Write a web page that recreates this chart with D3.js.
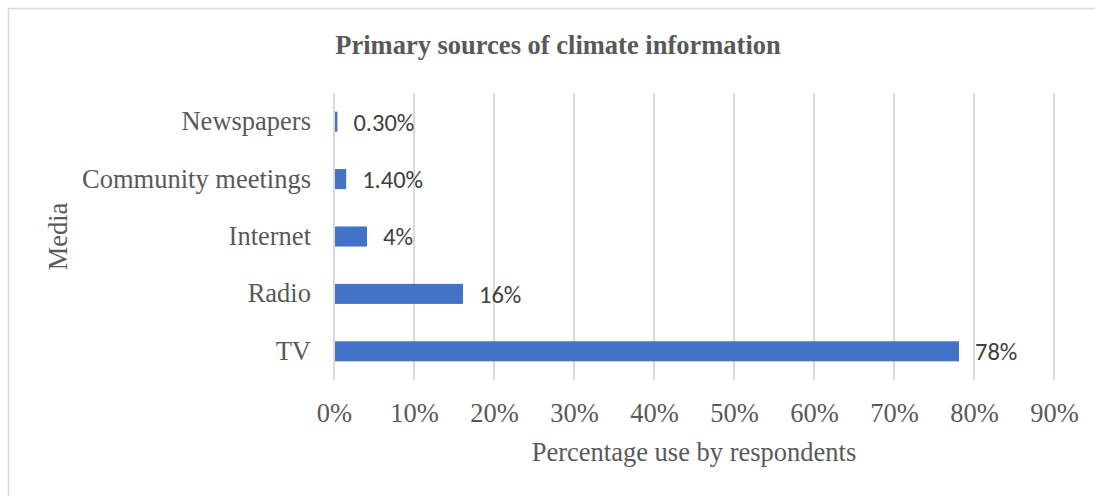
<!DOCTYPE html>
<html>
<head>
<meta charset="utf-8">
<script src="https://cdn.jsdelivr.net/npm/d3@7"></script>
<style>
  html, body { margin: 0; padding: 0; background: #fff; }
  svg { display: block; }
</style>
</head>
<body>
<svg id="chart" width="1095" height="496"></svg>
<script>
// Primary sources of climate information (percentage of respondents)
const categories = ["Newspapers", "Community meetings", "Internet", "Radio", "TV"];
const values = [0.3, 1.4, 4, 16, 78];
const valueLabels = ["0.30%", "1.40%", "4%", "16%", "78%"];
const ticks = [0, 10, 20, 30, 40, 50, 60, 70, 80, 90];

const W = 1095, H = 496;
const margin = { left: 334, right: 41, top: 93, bottom: 116 };
const serif = "'Liberation Serif', 'Times New Roman', serif";
const sans = "Carlito, 'Open Sans', 'Liberation Sans', sans-serif";
const labelSize = 26.5;

const svg = d3.select("#chart");

// outer frame
svg.append("rect")
  .attr("x", 8.5).attr("y", 8.5)
  .attr("width", W + 10).attr("height", H + 10)
  .attr("fill", "#fff").attr("stroke", "#d9d9d9").attr("stroke-width", 1.5);

const x = d3.scaleLinear().domain([0, 90]).range([margin.left, W - margin.right]);
const y = d3.scaleBand().domain(categories)
  .range([margin.top, H - margin.bottom]).paddingInner(0.65).paddingOuter(0.325);

// vertical gridlines
svg.append("g").selectAll("line").data(ticks).join("line")
  .attr("x1", d => x(d)).attr("x2", d => x(d))
  .attr("y1", margin.top).attr("y2", H - margin.bottom)
  .attr("stroke", "#d9d9d9").attr("stroke-width", 2);

// bars
svg.append("g").selectAll("rect").data(values).join("rect")
  .attr("x", x(0) + 1)
  .attr("y", (d, i) => y(categories[i]))
  .attr("width", d => Math.max(0, x(d) - x(0)))
  .attr("height", y.bandwidth())
  .attr("fill", "#4472c4");

// data labels
svg.append("g").selectAll("text").data(values).join("text")
  .attr("x", d => x(d) + 17)
  .attr("y", (d, i) => y(categories[i]) + y.bandwidth() / 2)
  .attr("dy", "0.36em")
  .attr("font-family", sans).attr("font-size", 24.5)
  .attr("fill", "#404040")
  .text((d, i) => valueLabels[i]);

// x axis tick labels
const xAxis = d3.axisBottom(x).tickValues(ticks).tickSize(0).tickPadding(0)
  .tickFormat(d => d + "%");
const gx = svg.append("g").attr("transform", `translate(0,${H - margin.bottom})`).call(xAxis);
gx.select(".domain").remove();
gx.selectAll("text")
  .attr("y", 42).attr("dy", 0)
  .attr("font-family", serif).attr("font-size", labelSize).attr("fill", "#595959");

// y axis category labels
const yAxis = d3.axisLeft(y).tickSize(0).tickPadding(23);
const gy = svg.append("g").attr("transform", `translate(${margin.left},0)`).call(yAxis);
gy.select(".domain").remove();
gy.selectAll("text")
  .attr("dy", "0.32em")
  .attr("font-family", serif).attr("font-size", labelSize).attr("fill", "#595959");

// title
svg.append("text")
  .attr("x", 558).attr("y", 54)
  .attr("text-anchor", "middle")
  .attr("font-family", serif).attr("font-size", 26.5).attr("font-weight", "bold")
  .attr("fill", "#595959")
  .text("Primary sources of climate information");

// axis titles
svg.append("text")
  .attr("x", (margin.left + W - margin.right) / 2).attr("y", 461)
  .attr("text-anchor", "middle")
  .attr("font-family", serif).attr("font-size", labelSize).attr("fill", "#595959")
  .text("Percentage use by respondents");

svg.append("text")
  .attr("transform", `translate(67,${(margin.top + H - margin.bottom) / 2}) rotate(-90)`)
  .attr("text-anchor", "middle")
  .attr("font-family", serif).attr("font-size", labelSize).attr("fill", "#595959")
  .text("Media");
</script>
</body>
</html>
